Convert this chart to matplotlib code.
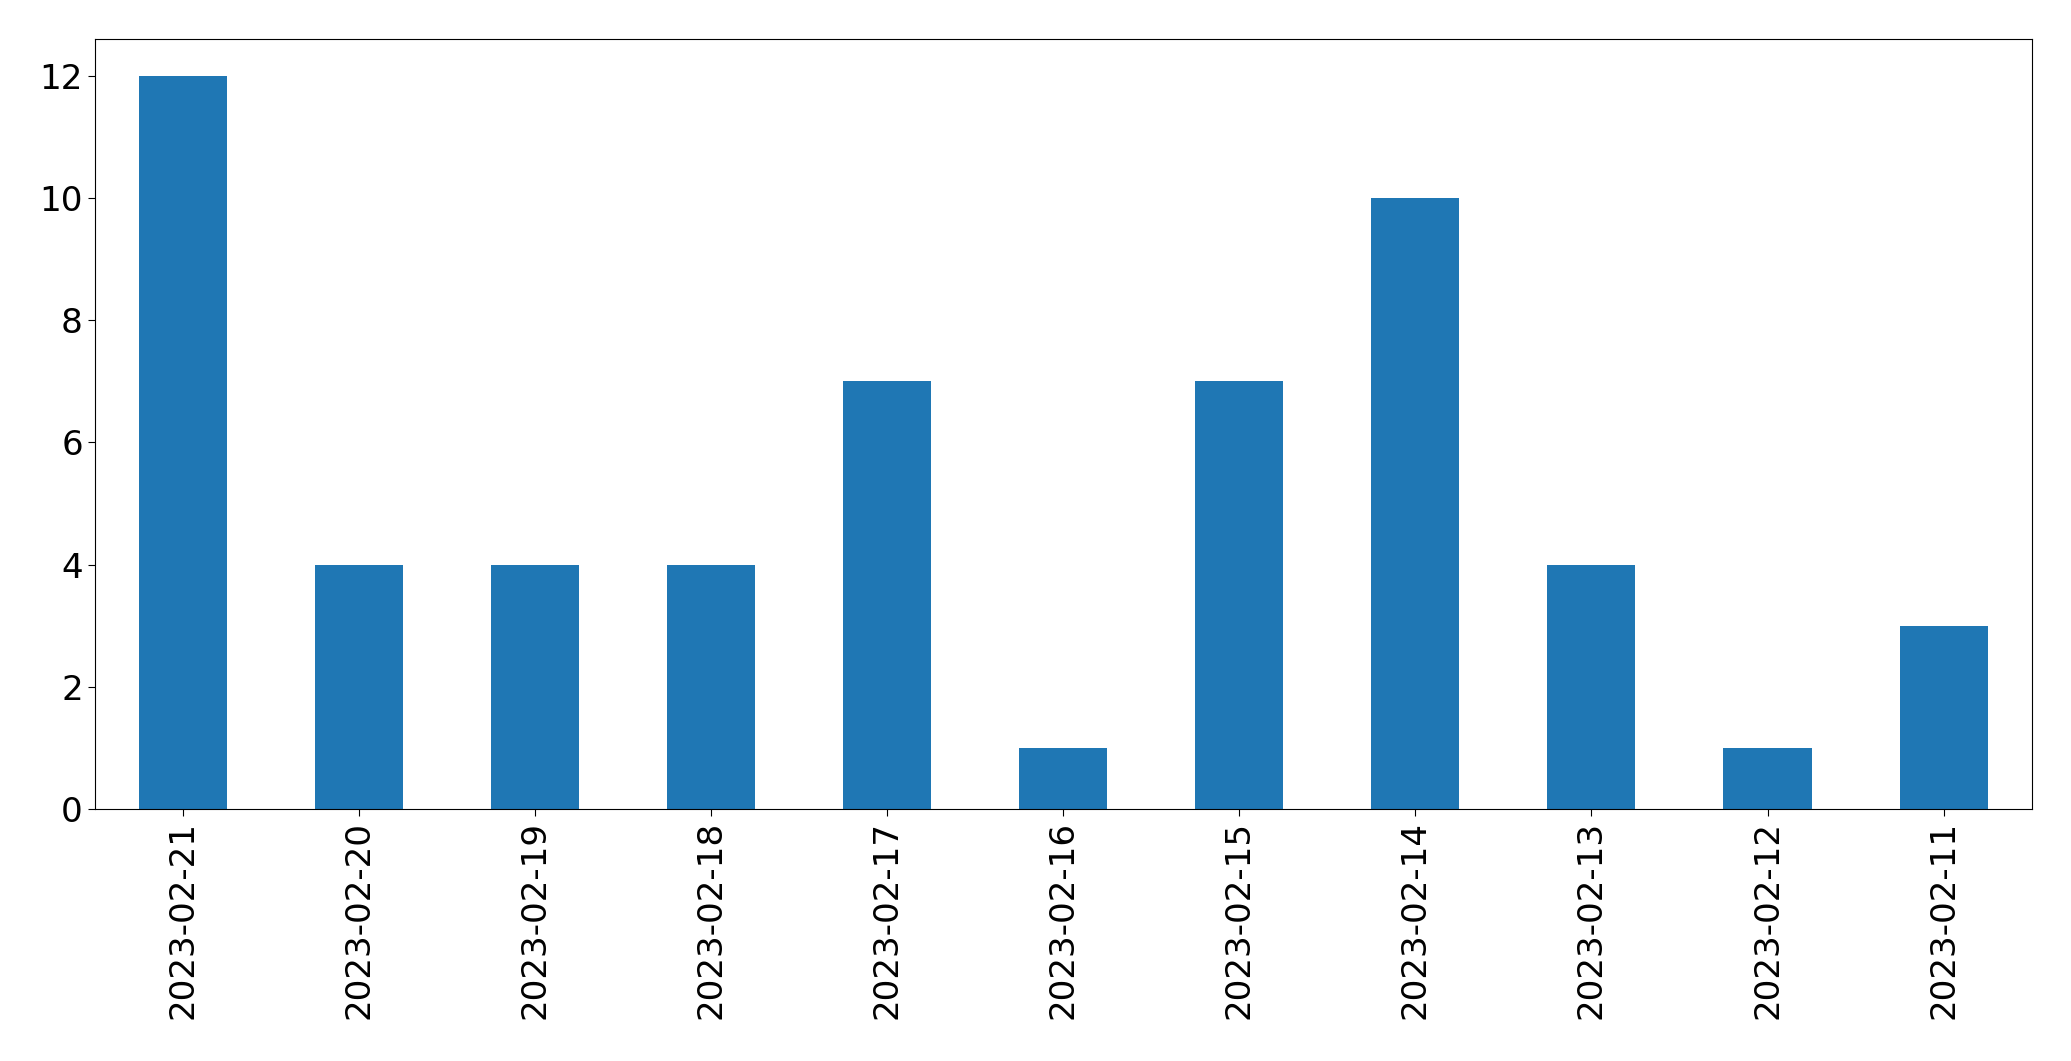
import matplotlib
matplotlib.use('Agg')
import matplotlib.pyplot as plt
import numpy as np

dates = ['2023-02-21', '2023-02-20', '2023-02-19', '2023-02-18', '2023-02-17',
         '2023-02-16', '2023-02-15', '2023-02-14', '2023-02-13', '2023-02-12',
         '2023-02-11']
counts = [12, 4, 4, 4, 7, 1, 7, 10, 4, 1, 3]

fig = plt.figure(figsize=(20.71, 10.61), dpi=100)
ax = fig.add_axes([0.0457, 0.2375, 0.981 - 0.0457, 0.963 - 0.2375])
x = np.arange(len(dates))
ax.bar(x, counts, width=0.5, color='#1f77b4')
ax.set_xlim(-0.5, len(dates) - 0.5)
ax.set_xticks(x)
ax.set_xticklabels(dates, rotation=90)
ax.tick_params(labelsize=24.6, length=4.9)
fig.savefig('out.png', dpi=100)
